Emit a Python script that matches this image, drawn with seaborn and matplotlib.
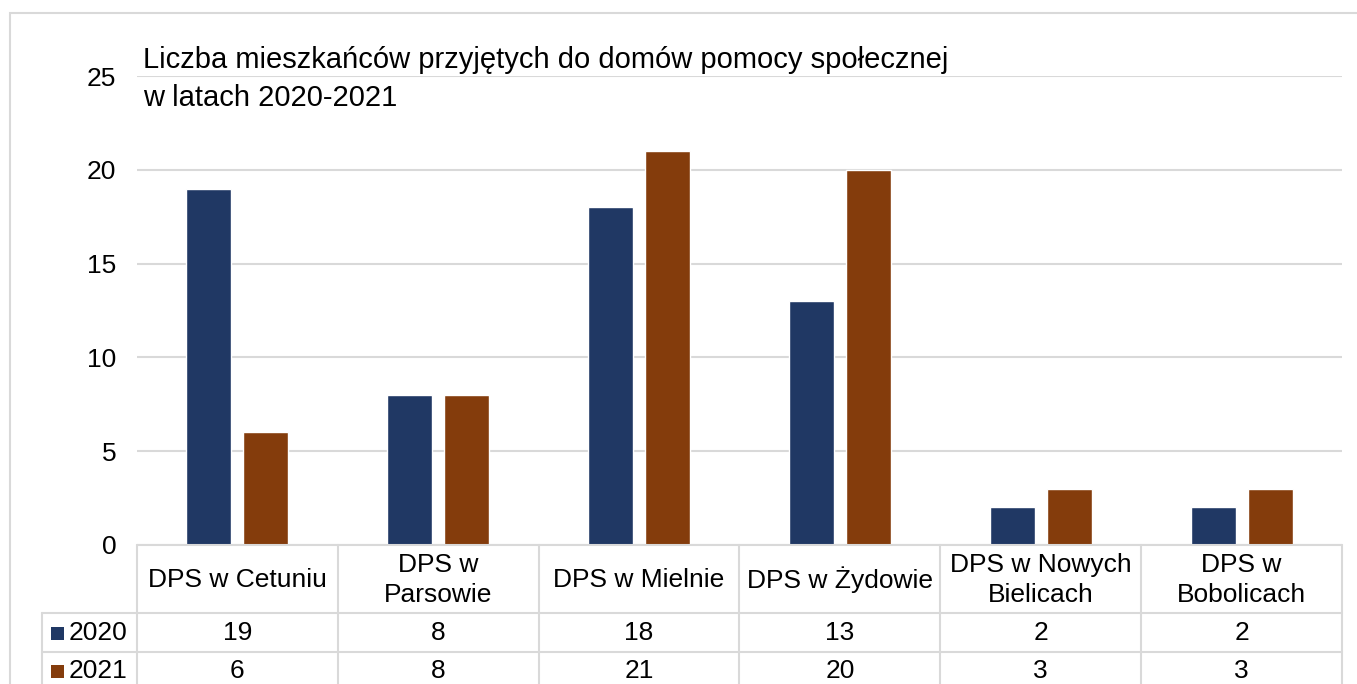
import numpy as np
import pandas as pd
import matplotlib
matplotlib.use("Agg")
import matplotlib.pyplot as plt
import seaborn as sns
from matplotlib.lines import Line2D
from matplotlib.patches import Rectangle

# dane
categories = ["DPS w Cetuniu", "DPS w\nParsowie", "DPS w Mielnie", "DPS w Żydowie",
              "DPS w Nowych\nBielicach", "DPS w\nBobolicach"]
years = ["2020", "2021"]
v2020 = [19, 8, 18, 13, 2, 2]
v2021 = [6, 8, 21, 20, 3, 3]
colors = ["#203864", "#843C0C"]
title = "Liczba mieszkańców przyjętych do domów pomocy społecznej\nw latach 2020-2021"

df = pd.DataFrame({
    "obiekt": categories * 2,
    "rok": [years[0]] * len(v2020) + [years[1]] * len(v2021),
    "liczba": v2020 + v2021,
})

sns.set_style("white")
plt.rcParams["font.family"] = ["Liberation Sans", "DejaVu Sans"]
plt.rcParams["text.color"] = "black"
plt.rcParams["ytick.color"] = "black"

W, H = 1357, 684
fs = 19
fig = plt.figure(figsize=(W / 100, H / 100), dpi=100)

def fx(px):
    return px / W

def fy(py):
    return 1 - py / H

# plot area
x0, x1, ytop, ybot = 137, 1342, 76, 545
ax = fig.add_axes([fx(x0), fy(ybot), fx(x1 - x0), (ybot - ytop) / H])

sns.barplot(data=df, x="obiekt", y="liczba", hue="rok", palette=colors,
            width=0.568, gap=0.21, ax=ax, legend=False, saturation=1)

ax.set_xlim(-0.5, len(categories) - 0.5)
ax.set_ylim(0, 25)
ax.set_yticks(range(0, 26, 5))
ax.yaxis.grid(True, color="#D9D9D9", linewidth=1.5)
ax.set_axisbelow(True)
for s in ax.spines.values():
    s.set_visible(False)
ax.set_xticks([])
ax.set_xlabel("")
ax.set_ylabel("")
ax.tick_params(axis="y", length=0, pad=15, labelsize=fs, labelcolor="black")

# outer frame
fig.add_artist(Rectangle((fx(10), fy(700)), 2, fy(13) - fy(700), transform=fig.transFigure,
                         fill=False, edgecolor="#D9D9D9", linewidth=1.5))

# title
fig.text(fx(143), fy(79), title, fontsize=21, va="center", ha="left",
         linespacing=1.42, transform=fig.transFigure)

# data table
line_kw = dict(color="#D9D9D9", linewidth=1.5, transform=fig.transFigure)
col_edges = [ax.transData.transform((i - 0.5, 0))[0] for i in range(len(categories) + 1)]
rows = [545, 613, 652, 690]
leg_x = 42

# horizontal lines
fig.add_artist(Line2D([fx(x0), fx(x1)], [fy(rows[0])] * 2, **line_kw))
for r in rows[1:]:
    fig.add_artist(Line2D([fx(leg_x), fx(x1)], [fy(r)] * 2, **line_kw))
# vertical lines
for xe in col_edges:
    fig.add_artist(Line2D([fx(xe)] * 2, [fy(rows[0]), fy(rows[-1])], **line_kw))
fig.add_artist(Line2D([fx(leg_x)] * 2, [fy(rows[1]), fy(rows[-1])], **line_kw))

# header labels
for i, c in enumerate(categories):
    xc = ax.transData.transform((i, 0))[0]
    fig.text(fx(xc), fy((rows[0] + rows[1]) / 2 + 1), c, ha="center", va="center",
             fontsize=fs, linespacing=1.3)

# value rows
for k, (yr, vals) in enumerate(zip(years, [v2020, v2021])):
    yc = (rows[k + 1] + rows[k + 2]) / 2
    fig.add_artist(Rectangle((fx(51), fy(yc + 7)), fx(13), 13 / H,
                             transform=fig.transFigure, facecolor=colors[k], edgecolor="none"))
    fig.text(fx(69), fy(yc), yr, ha="left", va="center", fontsize=fs)
    for i, v in enumerate(vals):
        xc = ax.transData.transform((i, 0))[0]
        fig.text(fx(xc), fy(yc), str(v), ha="center", va="center", fontsize=fs)

fig.savefig("out.png", dpi=100)
plt.close(fig)
